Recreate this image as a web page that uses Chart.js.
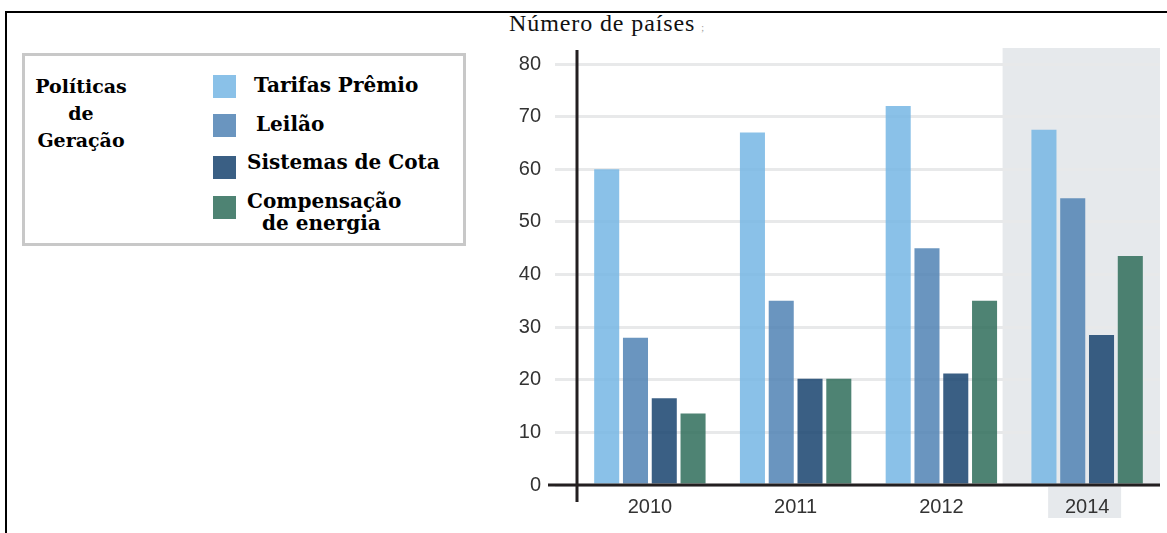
<!DOCTYPE html>
<html>
<head>
<meta charset="utf-8">
<script src="https://cdn.jsdelivr.net/npm/chart.js@4"></script>
<style>
  html, body { margin:0; padding:0; background:#fff; }
  body { width:1167px; height:533px; position:relative; overflow:hidden; }
  .frame { position:absolute; left:5px; top:11px; width:1170px; height:530px; border-top:2px solid #000; border-left:2px solid #000; }
  #wrap { position:absolute; left:0; top:0; width:1167px; height:533px; }
  .ttl { position:absolute; left:509px; top:10px; font-family:'Liberation Serif', serif; font-size:24px; letter-spacing:0.9px; color:#111; }
  .ttl span { font-size:10px; color:#999; margin-left:6px; }
  .leg { position:absolute; left:22px; top:53px; width:438px; height:187px; border:3px solid #c8c8c8; background:#fff; }
  .legt { position:absolute; left:4px; top:17px; width:104px; text-align:center; font:bold 19px 'DejaVu Serif', serif; line-height:27px; color:#000; }
  .sw { position:absolute; width:23px; height:23px; }
  .lab { position:absolute; font:bold 20px 'DejaVu Serif', serif; line-height:22px; color:#000; }
</style>
</head>
<body>
<div class="frame"></div>
<div class="ttl">Número de países<span>;</span></div>
<div id="wrap"><canvas id="c1"></canvas></div>
<div class="leg" id="leg">
  <div class="legt">Políticas<br>de<br>Geração</div>
</div>
<script>
    const categories = ['2010', '2011', '2012', '2014'];
    const seriesNames = ['Tarifas Prêmio', 'Leilão', 'Sistemas de Cota', 'Compensação de energia'];
    const legendLines = [['Tarifas Prêmio'], ['Leilão'], ['Sistemas de Cota'], ['Compensação', 'de energia']];
    const tarifas = [60, 67, 72, 67.5];
    const leilao = [28, 35, 45, 54.5];
    const cota = [16.5, 20.2, 21.2, 28.5];
    const compensacao = [13.6, 20.2, 35, 43.5];
    const yTicks = [0, 10, 20, 30, 40, 50, 60, 70, 80];
    const shadedCat = '2014';
    const colors = ['rgba(117,182,228,0.85)', 'rgba(80,130,180,0.85)', 'rgba(24,67,110,0.85)', 'rgba(47,109,90,0.85)'];

    const allSeries = [tarifas, leilao, cota, compensacao];

    // legend (html, the box layout can't be done by chart.js legend)
    const legOffs = [{sy:19, lx:229, ly:18}, {sy:58, lx:231, ly:57}, {sy:100, lx:222, ly:95}, {sy:140, lx:222, ly:134}];
    let leg = document.getElementById('leg');
    legendLines.forEach((ln, i) => {
        let sw = document.createElement('div'); sw.className = 'sw';
        sw.style.left = '188px'; sw.style.top = legOffs[i].sy + 'px'; sw.style.background = colors[i];
        leg.appendChild(sw);
        let lb = document.createElement('div'); lb.className = 'lab';
        lb.style.left = legOffs[i].lx + 'px'; lb.style.top = legOffs[i].ly + 'px';
        lb.innerHTML = ln.map((t, k) => k > 0 ? '<span style="margin-left:15px">' + t + '</span>' : t).join('<br>');
        leg.appendChild(lb);
    });

    const deco = {
        id: 'deco',
        beforeDraw(chart) {
            const {ctx, chartArea: a, scales: {x}} = chart;
            const idx = categories.indexOf(shadedCat);
            const cw = (a.right - a.left) / categories.length;
            const cx = x.getPixelForValue(idx);
            const l = cx - 0.58 * cw;
            ctx.save();
            ctx.fillStyle = '#e6e9ec';
            ctx.fillRect(l, a.top - 16, a.right - l, a.bottom - a.top + 16);
            ctx.fillRect(cx - 39, a.bottom, 73, 33);
            ctx.restore();
        },
        afterDraw(chart) {
            const {ctx, chartArea: a} = chart;
            ctx.save();
            ctx.strokeStyle = '#231f20';
            ctx.lineWidth = 3;
            ctx.beginPath();
            ctx.moveTo(a.left, a.top - 14); ctx.lineTo(a.left, a.bottom + 17);
            ctx.moveTo(a.left - 29, a.bottom); ctx.lineTo(a.right, a.bottom);
            ctx.stroke();
            ctx.restore();
        }
    };

    function initChart() {
        Chart.defaults.font.family = "'Liberation Sans', Arial, sans-serif";
        new Chart(document.getElementById('c1').getContext('2d'), {
            type: 'bar',
            data: {
                labels: categories,
                datasets: allSeries.map((s, i) => ({ label: seriesNames[i], data: s, backgroundColor: colors[i], borderWidth: 0, categoryPercentage: 0.79, barPercentage: 0.87 }))
            },
            options: {
                responsive: true, maintainAspectRatio: false, animation: false,
                layout: { padding: { left: 500, top: 64, right: 7, bottom: 0 } },
                plugins: { legend: { display: false }, tooltip: { enabled: false } },
                scales: {
                    x: {
                        grid: { display: false, drawTicks: false }, border: { display: false },
                        ticks: { color: '#333', font: { size: 20 }, padding: 10 },
                        afterFit: (s) => { s.height = 48; }
                    },
                    y: {
                        min: 0, max: 80,
                        afterBuildTicks: (s) => { s.ticks = yTicks.map(v => ({ value: v })); },
                        grid: { color: '#e8e9ea', lineWidth: 3, tickLength: 22, tickColor: '#e8e9ea' },
                        border: { display: false },
                        ticks: { color: '#333', font: { size: 20 }, padding: 14 },
                        afterFit: (s) => { s.width = 77; }
                    }
                }
            },
            plugins: [deco]
        });
    }

    document.addEventListener('DOMContentLoaded', initChart);
</script>
</body>
</html>
